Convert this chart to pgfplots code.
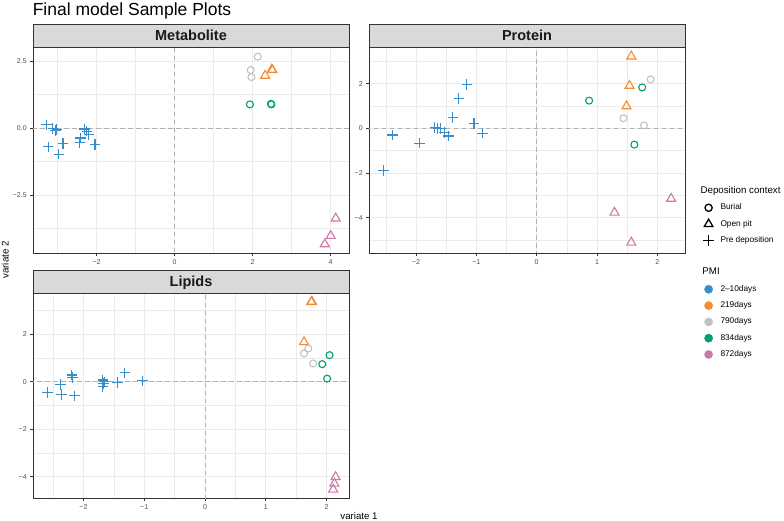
\documentclass[border=0pt]{standalone}
\usepackage{pgfplots}
\pgfplotsset{compat=1.18}
\usepackage{fontspec}
\setmainfont{Liberation Sans}

\definecolor{c210}{HTML}{388ECC}
\definecolor{c219}{HTML}{F68B33}
\definecolor{c790}{HTML}{C2C2C2}
\definecolor{c834}{HTML}{009E73}
\definecolor{c872}{HTML}{CC79A7}
\definecolor{gray10}{HTML}{1A1A1A}
\definecolor{gray20}{HTML}{333333}
\definecolor{gray30}{HTML}{4D4D4D}
\definecolor{gray85}{HTML}{D9D9D9}
\definecolor{gray92}{HTML}{EBEBEB}
\definecolor{zline}{HTML}{B0B0B0}

\tikzset{zl/.style={zline, line width=0.9pt, dash pattern=on 4.5pt off 3.5pt}}

\pgfplotsset{
  pan/.style={scale only axis, width=316pt, height=206pt, anchor=south west,
    axis line style={gray20, line width=0.6pt},
    tick align=outside, tick pos=left, major tick length=2.8pt, minor tick length=0pt,
    tick style={gray20, line width=0.6pt},
    grid=both, major grid style={gray92, line width=0.7pt}, minor grid style={gray92, line width=0.35pt},
    ticklabel style={font=\fontsize{7}{8}\selectfont, text=gray30},
    clip=true},
  cr/.style={only marks, mark=+, mark size=5.2pt, line width=1.2pt, c210},
  ci/.style={only marks, mark=o, mark size=3.5pt, line width=1.1pt, #1},
  tr/.style={only marks, mark=triangle, mark size=5.2pt, line width=1.1pt, #1},
}

\newcommand{\strip}[3]{%
  \draw[fill=gray85, draw=gray20, line width=0.6pt] (#1pt,#2pt) rectangle ++(316pt,23pt);
  \node[anchor=base, inner sep=0pt, font=\bfseries\fontsize{14.5}{16}\selectfont, text=gray10]
    at (#1pt+158pt,#2pt+6.5pt) {#3};}

\begin{document}
\begin{tikzpicture}
\path[use as bounding box] (0pt,0pt) rectangle (784pt,521pt);

\node[anchor=base west, inner sep=0pt, font=\fontsize{17.5}{20}\selectfont] at (32.6pt,505pt) {Final model Sample Plots};

% Metabolite
\begin{axis}[pan, at={(33pt,268pt)},
  xmin=-3.63, xmax=4.47, ymin=-4.66, ymax=3.02,
  xtick={-2,0,2,4}, xticklabels={−2,0,2,4}, minor xtick={-3,-1,1,3},
  ytick={-2.5,0,2.5}, yticklabels={−2.5,0.0,2.5}, minor ytick={-3.75,-1.25,1.25}]
\draw[zl] (axis cs:0,-10) -- (axis cs:0,10);
\draw[zl] (axis cs:-10,0) -- (axis cs:10,0);
\addplot[cr] coordinates {(-3.28,0.12) (-3.12,-0.02) (-3.05,-0.09) (-3.02,-0.06) (-3.24,-0.70) (-2.97,-0.98) (-2.86,-0.58) (-2.31,-0.04) (-2.25,-0.12) (-2.20,-0.25) (-2.41,-0.37) (-2.43,-0.54) (-2.04,-0.62)};
\addplot[tr=c219] coordinates {(2.32,1.95) (2.49,2.18) (2.51,2.16)};
\addplot[ci=c790] coordinates {(2.13,2.66) (1.95,2.16) (1.97,1.90)};
\addplot[ci=c834] coordinates {(1.93,0.88) (2.47,0.90) (2.48,0.88)};
\addplot[tr=c872] coordinates {(4.13,-3.37) (4.00,-4.02) (3.85,-4.33)};
\end{axis}
\strip{33}{474}{Metabolite}

% Protein
\begin{axis}[pan, at={(369pt,268pt)},
  xmin=-2.78, xmax=2.46, ymin=-5.58, ymax=3.64,
  xtick={-2,-1,0,1,2}, xticklabels={−2,−1,0,1,2}, minor xtick={-2.5,-1.5,-0.5,0.5,1.5},
  ytick={-4,-2,0,2}, yticklabels={−4,−2,0,2}, minor ytick={-5,-3,-1,1,3}]
\draw[zl] (axis cs:0,-10) -- (axis cs:0,10);
\draw[zl] (axis cs:-10,0) -- (axis cs:10,0);
\addplot[cr] coordinates {(-2.54,-1.89) (-2.39,-0.30) (-1.94,-0.67) (-1.69,0.04) (-1.64,-0.01) (-1.59,-0.01) (-1.53,-0.19) (-1.46,-0.34) (-1.39,0.49) (-1.29,1.34) (-1.16,1.96) (-1.04,0.22) (-0.90,-0.22)};
\addplot[tr=c219] coordinates {(1.57,3.22) (1.54,1.91) (1.49,0.99)};
\addplot[ci=c790] coordinates {(1.89,2.19) (1.44,0.45) (1.78,0.13)};
\addplot[ci=c834] coordinates {(0.87,1.24) (1.75,1.83) (1.62,-0.73)};
\addplot[tr=c872] coordinates {(2.23,-3.15) (1.29,-3.77) (1.57,-5.11)};
\end{axis}
\strip{369}{474}{Protein}

% Lipids
\begin{axis}[pan, at={(33pt,22.5pt)},
  xmin=-2.83, xmax=2.37, ymin=-4.92, ymax=3.76,
  xtick={-2,-1,0,1,2}, xticklabels={−2,−1,0,1,2}, minor xtick={-2.5,-1.5,-0.5,0.5,1.5},
  ytick={-4,-2,0,2}, yticklabels={−4,−2,0,2}, minor ytick={-3,-1,1,3}]
\draw[zl] (axis cs:0,-10) -- (axis cs:0,10);
\draw[zl] (axis cs:-10,0) -- (axis cs:10,0);
\addplot[cr] coordinates {(-2.59,-0.46) (-2.38,-0.11) (-2.36,-0.53) (-2.19,0.28) (-2.18,0.17) (-2.15,-0.59) (-1.68,0.07) (-1.67,-0.07) (-1.68,-0.21) (-1.66,0.00) (-1.44,-0.03) (-1.32,0.38) (-1.03,0.04)};
\addplot[tr=c219] coordinates {(1.75,3.36) (1.76,3.38) (1.63,1.67)};
\addplot[ci=c790] coordinates {(1.70,1.40) (1.63,1.19) (1.78,0.77)};
\addplot[ci=c834] coordinates {(2.05,1.12) (1.93,0.74) (2.01,0.13)};
\addplot[tr=c872] coordinates {(2.15,-4.01) (2.13,-4.29) (2.11,-4.54)};
\end{axis}
\strip{33}{227.5}{Lipids}

% axis titles
\node[anchor=base, inner sep=0pt, font=\fontsize{9.7}{11}\selectfont] at (359pt,1pt) {variate 1};
\node[anchor=base, rotate=90, inner sep=0pt, font=\fontsize{9.7}{11}\selectfont] at (8.5pt,261pt) {variate 2};

% legend
\begin{axis}[hide axis, scale only axis, width=1pt, height=1pt, anchor=north west,
  at={(703.1pt,335.7pt)}, xmin=0, xmax=1, ymin=0, ymax=1,
  legend image code/.code={\draw[#1] plot coordinates {(0pt,0pt)};},
  legend cell align=left,
  legend style={at={(0,1)}, anchor=north west, draw=none, fill=none, inner sep=0pt,
    row sep=4.3pt, column sep=6.6pt, font=\fontsize{8.3}{9}\selectfont,
    nodes={inner xsep=0pt, inner ysep=0pt, text height=8pt, text depth=4pt}}]
\addlegendimage{empty legend}
\addlegendentry{\fontsize{9.7}{11}\selectfont\hspace*{-19.8pt}Deposition context}
\addlegendimage{mark=o, mark size=3.6pt, line width=1.3pt, black}
\addlegendentry{Burial}
\addlegendimage{mark=triangle, mark size=5pt, line width=1.3pt, black}
\addlegendentry{Open pit}
\addlegendimage{mark=+, mark size=5.3pt, line width=1.3pt, black}
\addlegendentry{Pre deposition}
\addlegendimage{empty legend}
\addlegendentry{}
\addlegendimage{empty legend}
\addlegendentry{\fontsize{9.7}{11}\selectfont\hspace*{-19.8pt}PMI}
\addlegendimage{mark=*, mark size=4.2pt, line width=0.2pt, c210}
\addlegendentry{2–10days}
\addlegendimage{mark=*, mark size=4.2pt, line width=0.2pt, c219}
\addlegendentry{219days}
\addlegendimage{mark=*, mark size=4.2pt, line width=0.2pt, c790}
\addlegendentry{790days}
\addlegendimage{mark=*, mark size=4.2pt, line width=0.2pt, c834}
\addlegendentry{834days}
\addlegendimage{mark=*, mark size=4.2pt, line width=0.2pt, c872}
\addlegendentry{872days}
\end{axis}
\end{tikzpicture}
\end{document}
